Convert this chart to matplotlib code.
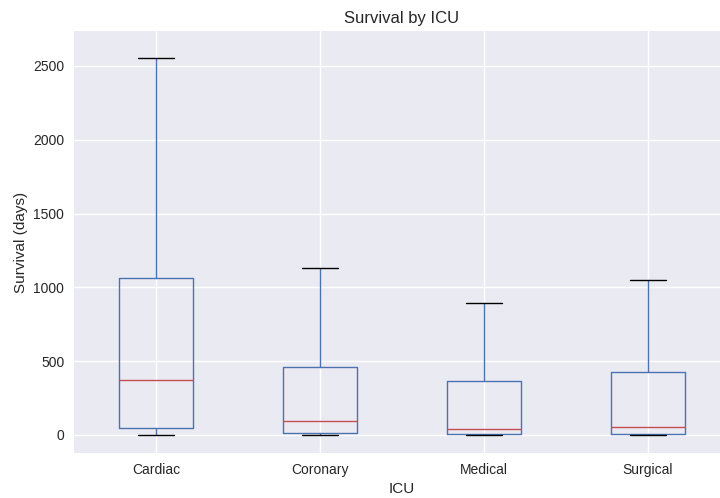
import matplotlib
matplotlib.use("Agg")
import matplotlib.pyplot as plt

icus = ["Cardiac", "Coronary", "Medical", "Surgical"]
whisker_low = [0, 0, 0, 0]
q1 = [47, 14, 7, 9]
medians = [373, 95, 43, 56]
q3 = [1064, 461, 368, 425]
whisker_high = [2554, 1131, 896, 1050]

stats = []
for name, lo, a, m, b, hi in zip(icus, whisker_low, q1, medians, q3, whisker_high):
    stats.append({"label": name, "whislo": lo, "q1": a, "med": m,
                  "q3": b, "whishi": hi, "fliers": []})

plt.style.use("seaborn-v0_8")
fig = plt.figure(figsize=(7.2, 4.98), dpi=100)
ax = fig.add_axes([74 / 720, 45 / 498, 656 / 720, 422 / 498])

ax.bxp(stats, widths=0.45, showfliers=False,
       boxprops=dict(color="#4C72B0", linewidth=1.0),
       whiskerprops=dict(color="#4C72B0", linewidth=1.0),
       capprops=dict(color="black", linewidth=1.0),
       medianprops=dict(color="#C44E52", linewidth=1.0))

ax.set_xlim(0.5, 4.5)
ax.set_ylim(-122, 2737)
ax.set_title("Survival by ICU")
ax.set_xlabel("ICU")
ax.set_ylabel("Survival (days)")
ax.grid(True, axis="both")

fig.savefig("out.png", dpi=100)
